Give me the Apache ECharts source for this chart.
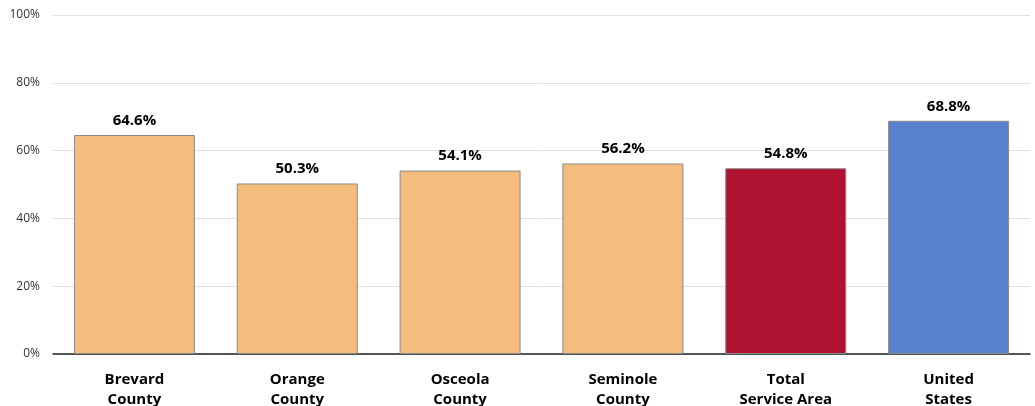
<!DOCTYPE html>
<html><head><meta charset="utf-8">
<script src="https://cdn.jsdelivr.net/npm/echarts@6/dist/echarts.min.js"></script>
<style>html,body{margin:0;padding:0;background:#fff}#c{width:1035px;height:406px}</style>
</head><body><div id="c"></div>
<script>
const categories = ['Brevard\nCounty','Orange\nCounty','Osceola\nCounty','Seminole\nCounty','Total\nService Area','United\nStates'];
const values = [64.6, 50.3, 54.1, 56.2, 54.8, 68.8];
const barColors = ['#F4BC7D','#F4BC7D','#F4BC7D','#F4BC7D','#B01232','#5882D0'];
const yTicks = [0,20,40,60,80,100];

const chart = echarts.init(document.getElementById('c'));
chart.setOption({
  animation:false,
  grid:{left:53,right:5,top:15,bottom:52,containLabel:false,outerBoundsMode:'none'},
  xAxis:{type:'category',data:categories,
    axisLine:{lineStyle:{color:'#222',width:1.5}},axisTick:{show:false},
    axisLabel:{interval:0,color:'#000',fontWeight:'bold',fontSize:15,fontFamily:'Open Sans',lineHeight:20,margin:16}},
  yAxis:{type:'value',min:yTicks[0],max:yTicks[yTicks.length-1],interval:20,
    axisLabel:{formatter:v=>v+'%',color:'#333',fontSize:12,fontFamily:'Open Sans',margin:13},
    splitLine:{lineStyle:{color:'#e0e0e0'}},axisLine:{show:false},axisTick:{show:false}},
  series:[{type:'bar',barWidth:121,
    data:values.map((v,i)=>({value:v,itemStyle:{color:barColors[i]}})),
    itemStyle:{borderColor:'#8a8a8a',borderWidth:1},
    label:{show:true,position:'top',distance:7,formatter:p=>p.value.toFixed(1)+'%',
      color:'#000',fontWeight:'bold',fontSize:15,fontFamily:'Open Sans'}}]
});
</script></body></html>
